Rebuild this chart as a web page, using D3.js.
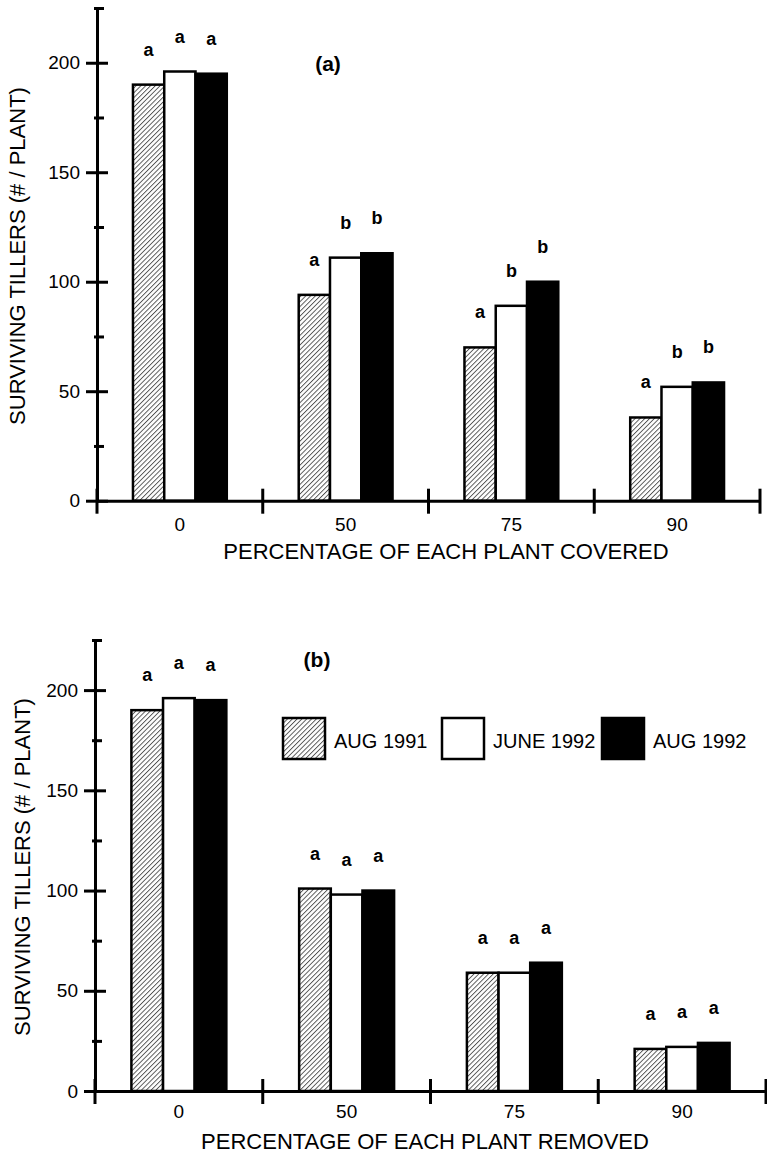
<!DOCTYPE html>
<html>
<head>
<meta charset="utf-8">
<script src="https://cdn.jsdelivr.net/npm/d3@7"></script>
<style>
body{margin:0;background:#fff;}
text{font-family:"Liberation Sans",Arial,Helvetica,sans-serif;fill:#000;}
</style>
</head>
<body>
<script>
// data
const categories = ["0", "50", "75", "90"];
const seriesNames = ["AUG 1991", "JUNE 1992", "AUG 1992"];
const yMajorTicks = [0, 50, 100, 150, 200];
const yMinorTicks = [25, 75, 125, 175, 225];

// (a) covered
const coveredAug1991 = [190, 94, 70, 38];
const coveredJune1992 = [196, 111, 89, 52];
const coveredAug1992 = [195, 113, 100, 54];
const coveredLetters = [["a","a","a"], ["a","b","b"], ["a","b","b"], ["a","b","b"]];

// (b) removed
const removedAug1991 = [190, 101, 59, 21];
const removedJune1992 = [196, 98, 59, 22];
const removedAug1992 = [195, 100, 64, 24];
const removedLetters = [["a","a","a"], ["a","a","a"], ["a","a","a"], ["a","a","a"]];

const fills = ["url(#hatch)", "#fff", "#000"];

const W = 767, H = 1158;
const svg = d3.select("body").append("svg").attr("width", W).attr("height", H);

// hatch pattern
const pat = svg.append("defs").append("pattern")
  .attr("id", "hatch")
  .attr("patternUnits", "userSpaceOnUse")
  .attr("width", 3.4).attr("height", 3.4)
  .attr("patternTransform", "rotate(45)");
pat.append("rect").attr("width", 3.4).attr("height", 3.4).attr("fill", "#fff");
pat.append("line").attr("x1", 0.5).attr("y1", 0).attr("x2", 0.5).attr("y2", 3.4)
  .attr("stroke", "#333").attr("stroke-width", 0.8);

function drawPanel(p) {
  const g = svg.append("g");
  const x0 = d3.scaleBand().domain(categories).range([p.xl, p.xr]);
  const x1 = d3.scaleBand().domain(seriesNames).range([0, x0.bandwidth()]).paddingOuter(1.15);
  const y = d3.scaleLinear().domain([0, 225]).range([p.yZero, p.yTop]);

  const rows = [];
  categories.forEach((c, i) => {
    p.series.forEach((s, j) => {
      rows.push({cat: c, name: seriesNames[j], v: s[i], letter: p.letters[i][j], j: j});
    });
  });

  // bars
  g.selectAll("rect.bar").data(rows).enter().append("rect")
    .attr("class", "bar")
    .attr("x", d => x0(d.cat) + x1(d.name))
    .attr("y", d => y(d.v))
    .attr("width", x1.bandwidth())
    .attr("height", d => y(0) - y(d.v))
    .attr("fill", d => fills[d.j])
    .attr("stroke", "#000")
    .attr("stroke-width", 2.5);

  // significance letters
  g.selectAll("text.sig").data(rows).enter().append("text")
    .attr("class", "sig")
    .attr("x", d => x0(d.cat) + x1(d.name) + x1.bandwidth() / 2)
    .attr("y", d => y(d.v) - 29)
    .attr("text-anchor", "middle")
    .attr("font-size", 18)
    .attr("font-weight", "bold")
    .text(d => d.letter);

  // y axis
  const yl = g.append("g").attr("transform", `translate(${p.xl},0)`)
    .call(d3.axisLeft(y).tickValues(yMajorTicks).tickSizeInner(11).tickSizeOuter(0).tickPadding(6));
  yl.selectAll("text").attr("font-size", 19).attr("font-family", "Liberation Sans");
  g.append("g").attr("transform", `translate(${p.xl},0)`)
    .call(d3.axisRight(y).tickValues(yMajorTicks).tickSize(11).tickSizeOuter(0).tickFormat(""));
  g.append("g").attr("transform", `translate(${p.xl},0)`)
    .call(d3.axisLeft(y).tickValues(yMinorTicks).tickSize(3).tickSizeOuter(0).tickFormat(""));
  g.append("g").attr("transform", `translate(${p.xl},0)`)
    .call(d3.axisRight(y).tickValues(yMinorTicks).tickSize(7).tickSizeOuter(0).tickFormat(""));

  // x axis
  const xa = g.append("g").attr("transform", `translate(0,${p.yZero})`)
    .call(d3.axisBottom(x0).tickSize(0).tickSizeOuter(0).tickPadding(p.labelPad));
  xa.selectAll("text").attr("font-size", 19).attr("font-family", "Liberation Sans");

  const bounds = categories.map(c => x0(c)).concat([x0.range()[1]]);
  g.selectAll("line.sep").data(bounds).enter().append("line")
    .attr("class", "sep")
    .attr("x1", d => d).attr("x2", d => d)
    .attr("y1", y(0) - 12).attr("y2", y(0) + 13)
    .attr("stroke", "#000");

  g.selectAll(".domain, .tick line, line.sep").attr("stroke", "#000").attr("stroke-width", 3);

  // titles
  g.append("text")
    .attr("x", p.xTitleX).attr("y", p.yZero + 58)
    .attr("text-anchor", "middle").attr("font-size", 22)
    .text(p.xTitle);
  g.append("text")
    .attr("transform", `translate(${p.yTitleX},${p.yTitleY}) rotate(-90)`)
    .attr("text-anchor", "middle").attr("font-size", 22)
    .text("SURVIVING TILLERS (# / PLANT)");
  g.append("text")
    .attr("x", p.tagX).attr("y", p.tagY)
    .attr("text-anchor", "middle").attr("font-size", 21).attr("font-weight", "bold")
    .text(p.tag);

  if (p.legend) {
    const lg = g.selectAll("g.leg").data(seriesNames).enter().append("g")
      .attr("class", "leg")
      .attr("transform", (d, i) => `translate(${p.legend.xs[i]},${p.legend.y})`);
    lg.append("rect").attr("width", 42).attr("height", 41)
      .attr("fill", (d, i) => fills[i]).attr("stroke", "#000").attr("stroke-width", 2.5);
    lg.append("text").attr("x", 51).attr("y", 30).attr("font-size", 20).text(d => d);
  }
}

drawPanel({
  xl: 97, xr: 760, yZero: 500.7, yTop: 8, labelPad: 17,
  series: [coveredAug1991, coveredJune1992, coveredAug1992],
  letters: coveredLetters,
  xTitle: "PERCENTAGE OF EACH PLANT COVERED", xTitleX: 446,
  yTitleX: 25, yTitleY: 256,
  tag: "(a)", tagX: 328, tagY: 71
});

drawPanel({
  xl: 95, xr: 766, yZero: 1091, yTop: 640, labelPad: 14,
  series: [removedAug1991, removedJune1992, removedAug1992],
  letters: removedLetters,
  xTitle: "PERCENTAGE OF EACH PLANT REMOVED", xTitleX: 425,
  yTitleX: 30, yTitleY: 867,
  tag: "(b)", tagX: 317, tagY: 667,
  legend: {xs: [283, 442, 602], y: 718}
});
</script>
</body>
</html>
